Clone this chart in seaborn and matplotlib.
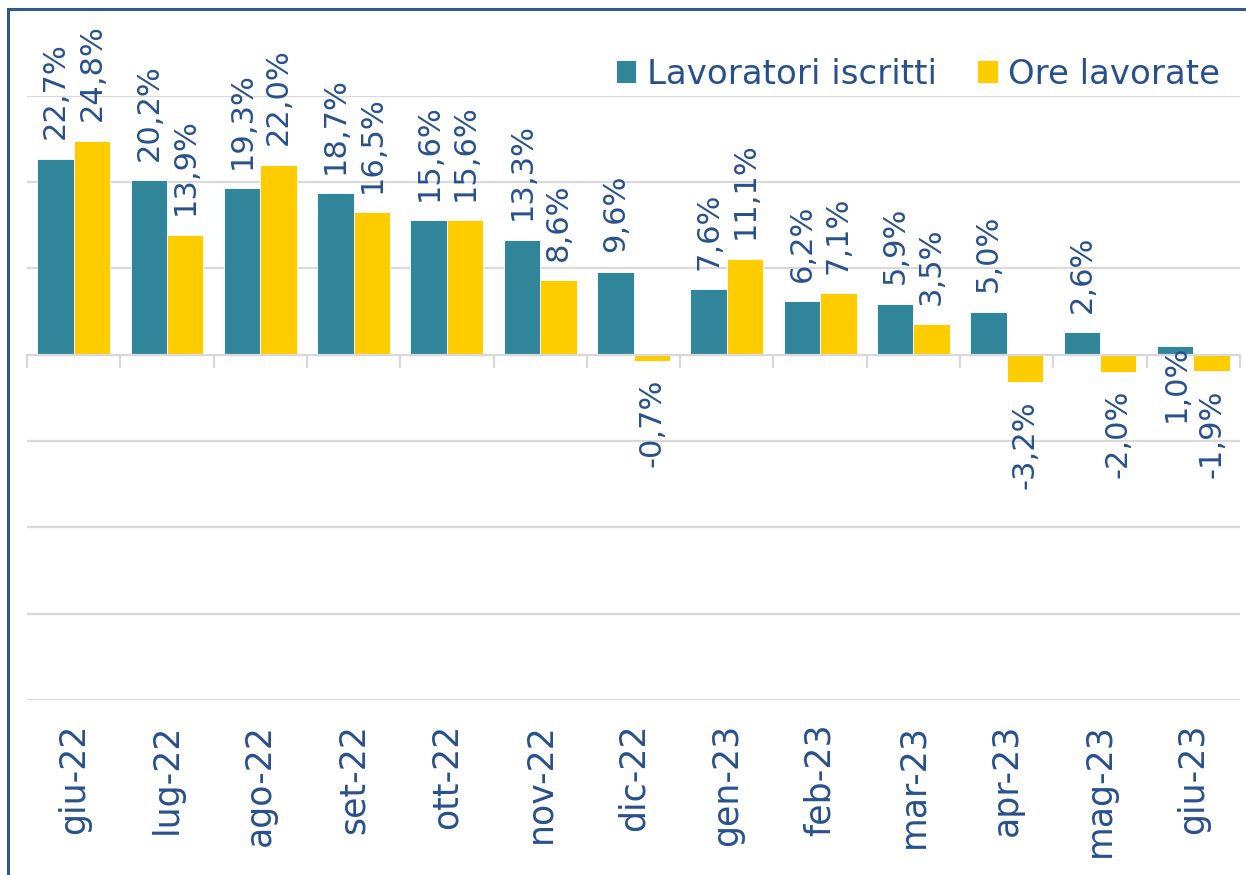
import matplotlib
matplotlib.use("Agg")
import matplotlib.pyplot as plt
import seaborn as sns
import pandas as pd
from matplotlib.patches import Rectangle

mesi = ["giu-22", "lug-22", "ago-22", "set-22", "ott-22", "nov-22", "dic-22",
        "gen-23", "feb-23", "mar-23", "apr-23", "mag-23", "giu-23"]
lavoratori = [22.7, 20.2, 19.3, 18.7, 15.6, 13.3, 9.6, 7.6, 6.2, 5.9, 5.0, 2.6, 1.0]
ore = [24.8, 13.9, 22.0, 16.5, 15.6, 8.6, -0.7, 11.1, 7.1, 3.5, -3.2, -2.0, -1.9]
serie = ["Lavoratori iscritti", "Ore lavorate"]

TEAL = "#31869B"
YELLOW = "#FFCC00"
TEXT = "#28508C"
GRID = "#D9D9D9"

df = pd.DataFrame({
    "mese": mesi * 2,
    "valore": lavoratori + ore,
    "serie": [serie[0]] * len(mesi) + [serie[1]] * len(mesi),
})

sns.set_theme(style="white")
plt.rcParams["font.family"] = ["DejaVu Sans"]

fig = plt.figure(figsize=(12.46, 8.75), dpi=100)
ax = fig.add_axes([27 / 1246, 1 - 700 / 875, (1240 - 27) / 1246, (700 - 95.7) / 875])

sns.barplot(data=df, x="mese", y="valore", hue="serie", order=mesi,
            hue_order=serie, palette=[TEAL, YELLOW], saturation=1,
            width=0.78, edgecolor="white", linewidth=0.6, ax=ax, legend=True)

ax.set_ylim(-40, 30)
ax.set_xlim(-0.5, len(mesi) - 0.5)
ax.set_yticks(range(-40, 31, 10))
ax.set_yticklabels([])
ax.tick_params(axis="y", length=0)
ax.yaxis.grid(True, color=GRID, linewidth=1.6)
ax.set_axisbelow(True)
ax.set_xlabel("")
ax.set_ylabel("")
for s in ["left", "right", "top"]:
    ax.spines[s].set_visible(False)
ax.spines["bottom"].set_position(("data", 0))
ax.spines["bottom"].set_color(GRID)
ax.spines["bottom"].set_linewidth(1.6)
bounds = [i - 0.5 for i in range(len(mesi) + 1)]
ax.set_xticks(bounds)
ax.set_xticklabels([])
ax.tick_params(axis="x", bottom=True, length=9.5, width=1.6, color=GRID, direction="out")

sec = ax.secondary_xaxis(0)
sec.set_xticks(range(len(mesi)))
sec.set_xticklabels(mesi, rotation=90, fontsize=25, color=TEXT)
sec.tick_params(length=0, pad=17)
sec.spines["bottom"].set_visible(False)

# data labels
LBL = 22
values_by_series = [lavoratori, ore]
for si, cont in enumerate(ax.containers):
    vals = values_by_series[si]
    for bi, (bar, v) in enumerate(zip(cont, vals)):
        x = bar.get_x() + bar.get_width() / 2
        lab = f"{v:.1f}%".replace(".", ",")
        if si == 0 and bi == len(vals) - 1:
            ax.annotate(lab, (x, v), xytext=(1, 1), textcoords="offset points",
                        rotation=90, ha="center", va="top", fontsize=LBL, color=TEXT)
        elif v >= 0:
            ax.annotate(lab, (x, v), xytext=(0, 14), textcoords="offset points",
                        rotation=90, ha="center", va="bottom", fontsize=LBL, color=TEXT)
        else:
            ax.annotate(lab, (x, v), xytext=(0, -13), textcoords="offset points",
                        rotation=90, ha="center", va="top", fontsize=LBL, color=TEXT)

handles, labels = ax.get_legend_handles_labels()
ax.legend(handles, labels, ncol=2, frameon=False, fontsize=24.5,
          labelcolor=TEXT, handlelength=0.6, handleheight=0.65,
          handletextpad=0.3, columnspacing=1.2, borderpad=0, borderaxespad=0,
          loc="center right", bbox_to_anchor=(1220 / 1246, 1 - 74 / 875),
          bbox_transform=fig.transFigure)

fig.patches.append(Rectangle((8 / 1246, -0.1), 1.2, 1 - 9 / 875 + 0.1,
                             transform=fig.transFigure, fill=False,
                             edgecolor="#2F5A8E", linewidth=2.2))

fig.savefig("out.png", dpi=100)
